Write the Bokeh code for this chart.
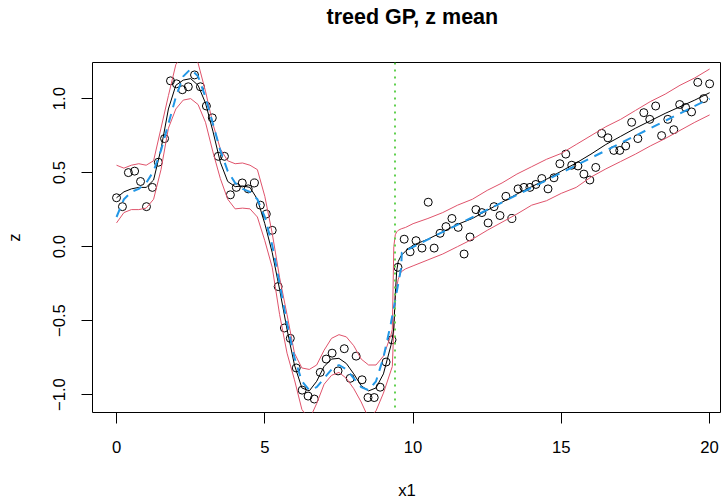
from bokeh.plotting import figure
from bokeh.models import Range1d, Span, FixedTicker, Title
from bokeh.embed import file_html
from bokeh.resources import INLINE

# ---------------- data ----------------
obs_x = [0.00, 0.20, 0.40, 0.61, 0.81, 1.01, 1.21, 1.41, 1.62, 1.82,
         2.02, 2.22, 2.42, 2.63, 2.83, 3.03, 3.23, 3.43, 3.64, 3.84,
         4.04, 4.24, 4.44, 4.65, 4.85, 5.05, 5.25, 5.45, 5.66, 5.86,
         6.06, 6.26, 6.46, 6.67, 6.87, 7.07, 7.27, 7.47, 7.68, 7.88,
         8.08, 8.28, 8.48, 8.69, 8.89, 9.09, 9.29, 9.49, 9.70, 9.90,
         10.10, 10.30, 10.51, 10.71, 10.91, 11.11, 11.31, 11.52, 11.72, 11.92,
         12.12, 12.32, 12.53, 12.73, 12.93, 13.13, 13.33, 13.54, 13.74, 13.94,
         14.14, 14.34, 14.55, 14.75, 14.95, 15.15, 15.35, 15.56, 15.76, 15.96,
         16.16, 16.36, 16.57, 16.77, 16.97, 17.17, 17.37, 17.58, 17.78, 17.98,
         18.18, 18.38, 18.59, 18.79, 18.99, 19.19, 19.39, 19.60, 19.80, 20.00]
obs_z = [0.33, 0.27, 0.50, 0.51, 0.44, 0.27, 0.40, 0.57, 0.73, 1.12,
         1.10, 1.06, 1.08, 1.16, 1.08, 0.95, 0.87, 0.61, 0.61, 0.35,
         0.40, 0.43, 0.39, 0.43, 0.28, 0.22, 0.11, -0.27, -0.55, -0.62,
         -0.82, -0.97, -1.01, -1.03, -0.85, -0.76, -0.72, -0.84, -0.69, -0.89,
         -0.74, -0.90, -1.02, -1.02, -0.95, -0.78, -0.63, -0.14, 0.05, -0.035,
         0.04, -0.01, 0.30, -0.01, 0.09, 0.135, 0.19, 0.13, -0.05, 0.065,
         0.25, 0.23, 0.16, 0.27, 0.21, 0.34, 0.19, 0.39, 0.40, 0.40,
         0.42, 0.46, 0.39, 0.465, 0.56, 0.625, 0.55, 0.545, 0.49, 0.45,
         0.535, 0.765, 0.735, 0.65, 0.65, 0.68, 0.84, 0.73, 0.905, 0.86,
         0.95, 0.75, 0.86, 0.79, 0.96, 0.94, 0.91, 1.11, 1.00, 1.10]

grid_x = [0.0, 0.25, 0.5, 0.75, 1.0, 1.25, 1.5, 1.75, 2.0, 2.25,
          2.5, 2.75, 3.0, 3.25, 3.5, 3.75, 4.0, 4.25, 4.5, 4.75,
          5.0, 5.25, 5.5, 5.75, 6.0, 6.25, 6.5, 6.75, 7.0, 7.25,
          7.5, 7.75, 8.0, 8.25, 8.5, 8.75, 9.0, 9.25, 9.3, 9.35,
          9.4, 9.45, 9.5, 9.6, 9.75, 10.0, 10.5, 11.0, 11.5, 12.0,
          12.5, 13.0, 13.5, 14.0, 14.5, 15.0, 15.5, 16.0, 16.5, 17.0,
          17.5, 18.0, 18.5, 19.0, 19.5, 20.0]
mean_z = [0.33, 0.37, 0.39, 0.40, 0.40, 0.45, 0.66, 0.93, 1.09, 1.125,
          1.135, 1.09, 0.97, 0.78, 0.57, 0.44, 0.405, 0.41, 0.40, 0.32,
          0.155, -0.04, -0.29, -0.56, -0.80, -0.955, -0.975, -0.91, -0.81, -0.76,
          -0.755, -0.79, -0.86, -0.94, -0.975, -0.955, -0.86, -0.67, -0.62, -0.55,
          -0.32, -0.16, -0.10, -0.06, -0.03, 0.01, 0.05, 0.10, 0.15, 0.19,
          0.245, 0.30, 0.355, 0.405, 0.455, 0.51, 0.565, 0.625, 0.69, 0.745,
          0.80, 0.85, 0.90, 0.945, 0.99, 1.04]
upper_z = [0.55, 0.53, 0.55, 0.56, 0.55, 0.58, 0.80, 1.02, 1.23, 1.30,
           1.32, 1.24, 1.05, 0.83, 0.66, 0.58, 0.56, 0.565, 0.55, 0.52,
           0.34, 0.09, -0.21, -0.46, -0.72, -0.82, -0.83, -0.80, -0.70, -0.62,
           -0.595, -0.61, -0.67, -0.76, -0.80, -0.80, -0.74, -0.60, -0.56, 0.00,
           0.08, 0.10, 0.11, 0.12, 0.13, 0.155, 0.19, 0.23, 0.28, 0.32,
           0.38, 0.43, 0.49, 0.54, 0.59, 0.63, 0.69, 0.75, 0.81, 0.86,
           0.92, 0.98, 1.03, 1.09, 1.14, 1.20]
lower_z = [0.16, 0.23, 0.25, 0.25, 0.26, 0.32, 0.52, 0.80, 0.93, 0.99,
           1.00, 0.96, 0.84, 0.64, 0.46, 0.32, 0.255, 0.26, 0.255, 0.20,
           0.04, -0.14, -0.46, -0.72, -0.90, -1.10, -1.17, -1.06, -0.93, -0.87,
           -0.85, -0.89, -0.96, -1.05, -1.16, -1.11, -0.99, -0.84, -0.81, -0.55,
           -0.34, -0.27, -0.22, -0.17, -0.15, -0.13, -0.09, -0.05, 0.00, 0.05,
           0.11, 0.165, 0.22, 0.28, 0.31, 0.36, 0.40, 0.47, 0.525, 0.575,
           0.625, 0.68, 0.73, 0.785, 0.84, 0.89]

true_x = [0.0, 0.25, 0.5, 0.75, 1.0, 1.25, 1.5, 1.75, 2.0, 2.25,
          2.5, 2.75, 3.0, 3.25, 3.5, 3.75, 4.0, 4.25, 4.5, 4.75,
          5.0, 5.25, 5.5, 5.75, 6.0, 6.25, 6.5, 6.75, 7.0, 7.25,
          7.5, 7.75, 8.0, 8.25, 8.5, 8.75, 9.0, 9.25, 9.5, 9.6,
          9.62, 20.0]
true_z = [0.20, 0.32, 0.37, 0.39, 0.43, 0.51, 0.65, 0.83, 1.01, 1.15,
          1.20, 1.15, 1.01, 0.83, 0.65, 0.51, 0.43, 0.39, 0.37, 0.32,
          0.20, 0.01, -0.25, -0.52, -0.75, -0.91, -0.97, -0.95, -0.89, -0.83,
          -0.80, -0.83, -0.89, -0.95, -0.97, -0.91, -0.75, -0.52, -0.25, -0.14,
          -0.04, 1.00]

split_x = 9.39

x_ticks = [0, 5, 10, 15, 20]
x_tick_labels = ["0", "5", "10", "15", "20"]
y_ticks = [-1.0, -0.5, 0.0, 0.5, 1.0]
y_tick_labels = ["\u22121.0", "\u22120.5", "0.0", "0.5", "1.0"]

title_text = "treed GP, z mean"
x_label = "x1"
y_label = "z"

# ---------------- figure ----------------
FONT = "Liberation Sans"
p = figure(width=721, height=502, output_backend="svg", toolbar_location=None,
           x_range=Range1d(-0.81, 20.40), y_range=Range1d(-1.121, 1.244),
           min_border_left=92, min_border_right=0, min_border_top=62,
           min_border_bottom=89, title=title_text)
p.title.align = "left"
p.title.offset = 234
p.title.standoff = 0
p.title.text_font = FONT
p.title.text_font_style = "bold"
p.title.text_font_size = "21.5px"
p.title.text_color = "black"

# blank spacer between the title and the frame
p.add_layout(Title(text=" ", text_font_size="10px", standoff=21), "above")

p.xgrid.visible = False
p.ygrid.visible = False
p.outline_line_color = "black"
p.outline_line_width = 1
p.outline_line_alpha = 1.0
p.background_fill_color = "white"
p.border_fill_color = "white"

for ax, ticks, labels in ((p.xaxis[0], x_ticks, x_tick_labels),
                          (p.yaxis[0], y_ticks, y_tick_labels)):
    ax.ticker = FixedTicker(ticks=ticks)
    ax.major_label_overrides = {t: l for t, l in zip(ticks, labels)}
    ax.axis_line_color = None
    ax.major_tick_in = 0
    ax.major_tick_out = 11
    ax.major_tick_line_color = "black"
    ax.major_tick_line_width = 1
    ax.minor_tick_line_color = None
    ax.major_label_text_font = FONT
    ax.major_label_text_font_size = "16.7px"
    ax.major_label_text_color = "black"
    ax.axis_label_text_font = FONT
    ax.axis_label_text_font_size = "16.7px"
    ax.axis_label_text_font_style = "normal"
    ax.axis_label_text_color = "black"

p.xaxis.axis_label = x_label
p.yaxis.axis_label = y_label
p.xaxis.major_label_standoff = 17
p.yaxis.major_label_standoff = 16
p.xaxis.axis_label_standoff = 25
p.yaxis.axis_label_standoff = 27
p.yaxis.major_label_orientation = "vertical"

# points
p.scatter(obs_x, obs_z, marker="circle", size=8, fill_color=None,
          line_color="black", line_width=1)
# quantiles
p.line(grid_x, upper_z, line_color="#DF536B", line_width=1)
p.line(grid_x, lower_z, line_color="#DF536B", line_width=1)
# posterior mean
p.line(grid_x, mean_z, line_color="black", line_width=1)
# tree split
p.add_layout(Span(location=split_x, dimension="height", line_color="#61D04F",
                  line_width=2, line_dash="2 5"))
# truth
p.line(true_x, true_z, line_color="#2297E6", line_width=2, line_dash="9 7")

open("out.html", "w").write(file_html(p, INLINE))
